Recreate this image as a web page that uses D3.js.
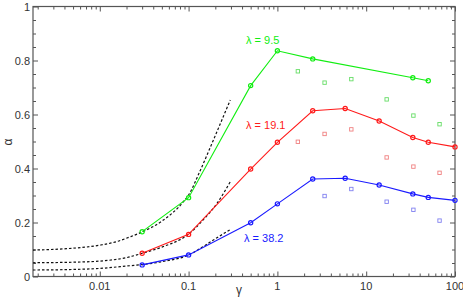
<!DOCTYPE html>
<html><head><meta charset="utf-8">
<script src="https://cdn.jsdelivr.net/npm/d3@7"></script>
<style>body{margin:0;background:#fff}svg{display:block}text{font-family:"Liberation Sans",Arimo,Arial,Helvetica,sans-serif}</style>
</head><body>
<svg id="c" width="463" height="300"></svg>
<script>
// ---- data ----
const gammaGreen = [0.03, 0.1, 0.5, 1, 2.5, 33.5, 50];
const alphaGreen = [0.166, 0.292, 0.707, 0.836, 0.806, 0.736, 0.725];
const gammaRed = [0.03, 0.1, 0.5, 1, 2.5, 5.8, 14, 33.5, 50, 100];
const alphaRed = [0.086, 0.156, 0.398, 0.497, 0.614, 0.622, 0.576, 0.515, 0.497, 0.48];
const gammaBlue = [0.03, 0.1, 0.5, 1, 2.5, 5.8, 14, 33.5, 50, 100];
const alphaBlue = [0.043, 0.08, 0.199, 0.269, 0.361, 0.364, 0.339, 0.306, 0.293, 0.282];
const gammaSqGreen = [1.7, 3.4, 6.8, 17, 34, 67];
const alphaSqGreen = [0.76, 0.718, 0.731, 0.656, 0.596, 0.564];
const gammaSqRed = [1.7, 3.4, 6.8, 17, 34, 67];
const alphaSqRed = [0.499, 0.528, 0.545, 0.441, 0.407, 0.384];
const gammaSqBlue = [3.4, 6.8, 17, 34, 67];
const alphaSqBlue = [0.298, 0.324, 0.277, 0.247, 0.207];
const gammaDashUpper = [0.00177, 0.0042, 0.01, 0.0154, 0.022, 0.03, 0.05, 0.088, 0.1, 0.135, 0.19, 0.295];
const alphaDashUpper = [0.098, 0.103, 0.116, 0.129, 0.147, 0.165, 0.205, 0.278, 0.302, 0.392, 0.505, 0.654];
const gammaDashMid = [0.00177, 0.005, 0.01, 0.022, 0.03, 0.05, 0.1, 0.15, 0.209, 0.295];
const alphaDashMid = [0.051, 0.053, 0.057, 0.073, 0.086, 0.109, 0.157, 0.214, 0.271, 0.351];
const gammaDashLow = [0.00177, 0.005, 0.01, 0.022, 0.03, 0.05, 0.1, 0.14, 0.19, 0.295];
const alphaDashLow = [0.024, 0.026, 0.030, 0.04, 0.044, 0.055, 0.08, 0.107, 0.135, 0.174];
const xTickLabels = ["0.01", "0.1", "1", "10", "100"];
const yTickLabels = ["0", "0.2", "0.4", "0.6", "0.8", "1"];
const seriesLabels = ["λ = 9.5", "λ = 19.1", "λ = 38.2"];

// ---- layout ----
const L = 33, R = 455, T = 6.5, B = 276.5;
const svg = d3.select("#c");
const x = d3.scaleLog().domain([0.00177, 100]).range([L, R]);
const y = d3.scaleLinear().domain([0, 1]).range([B, T]);
const axisCol = "#555";

// frame
svg.append("rect").attr("x", L).attr("y", T).attr("width", R - L).attr("height", B - T)
  .attr("fill", "none").attr("stroke", axisCol).attr("stroke-width", 1.2);

// x ticks (inward) bottom and top
const xMinor = [];
for (let e = -3; e <= 1; e++) for (let m = 1; m <= 9; m++) {
  const v = m * Math.pow(10, e);
  if (v >= 0.00177 && v <= 100) xMinor.push({v, major: m === 1});
}
xMinor.push({v: 100, major: true});
const bAxis = d3.axisBottom(x).tickValues(xMinor.map(d => d.v)).tickFormat("").tickSizeInner(-3).tickSizeOuter(0);
const gb = svg.append("g").attr("transform", `translate(0,${B})`).call(bAxis);
gb.selectAll(".tick line").attr("y2", (d, i) => xMinor[i].major ? -5 : -3);
const tAxis = d3.axisTop(x).tickValues(xMinor.map(d => d.v)).tickFormat("").tickSizeInner(-3).tickSizeOuter(0);
const gt = svg.append("g").attr("transform", `translate(0,${T})`).call(tAxis);
gt.selectAll(".tick line").attr("y2", (d, i) => xMinor[i].major ? 5 : 3);
[gb, gt].forEach(g => { g.select(".domain").remove(); g.selectAll(".tick line").attr("stroke", axisCol); });

// x labels
const xMajor = [0.01, 0.1, 1, 10, 100];
svg.append("g").selectAll("text").data(xMajor).join("text")
  .attr("x", d => x(d)).attr("y", 290).attr("text-anchor", "middle")
  .attr("font-size", 11).attr("fill", "#333").text((d, i) => xTickLabels[i]);

// y ticks
const yVals = d3.range(0, 21).map(i => i * 0.05);
const lAxis = d3.axisLeft(y).tickValues(yVals).tickFormat("").tickSizeInner(-3).tickSizeOuter(0);
const gl = svg.append("g").attr("transform", `translate(${L},0)`).call(lAxis);
const rAxis = d3.axisRight(y).tickValues(yVals).tickFormat("").tickSizeInner(-3).tickSizeOuter(0);
const gr = svg.append("g").attr("transform", `translate(${R},0)`).call(rAxis);
[gl, gr].forEach(g => { g.select(".domain").remove(); g.selectAll(".tick line").attr("stroke", axisCol); });
gl.selectAll(".tick line").attr("x2", (d, i) => i % 4 === 0 ? 5 : 3);
gr.selectAll(".tick line").attr("x2", (d, i) => i % 4 === 0 ? -5 : -3);

svg.append("g").selectAll("text").data([0, 0.2, 0.4, 0.6, 0.8, 1]).join("text")
  .attr("x", 30).attr("y", d => y(d) + 4).attr("text-anchor", "end")
  .attr("font-size", 11).attr("fill", "#333").text((d, i) => yTickLabels[i]);

// axis titles
svg.append("text").attr("x", 239).attr("y", 294).attr("text-anchor", "middle")
  .attr("font-size", 12).attr("fill", "#333").text("γ");
svg.append("text").attr("transform", "translate(12,142) rotate(-90)").attr("text-anchor", "middle")
  .attr("font-size", 12).attr("fill", "#333").text("α");

// dashed curves
const dashLine = d3.line().x(d => x(d[0])).y(d => y(d[1])).curve(d3.curveMonotoneX);
[[gammaDashUpper, alphaDashUpper], [gammaDashMid, alphaDashMid], [gammaDashLow, alphaDashLow]].forEach(([g, a]) => {
  svg.append("path").datum(g.map((v, i) => [v, a[i]])).attr("d", dashLine)
    .attr("fill", "none").attr("stroke", "#111").attr("stroke-width", 1.2).attr("stroke-dasharray", "2.5,2");
});

// series
const series = [
  {g: gammaGreen, a: alphaGreen, sg: gammaSqGreen, sa: alphaSqGreen, c: "#11ee11", sc: "#66dd66"},
  {g: gammaRed, a: alphaRed, sg: gammaSqRed, sa: alphaSqRed, c: "#ff1a1a", sc: "#f08080"},
  {g: gammaBlue, a: alphaBlue, sg: gammaSqBlue, sa: alphaSqBlue, c: "#1a1aff", sc: "#8080f0"}
];
const line = d3.line().x(d => x(d[0])).y(d => y(d[1]));
series.forEach(s => {
  const pts = s.g.map((v, i) => [v, s.a[i]]);
  svg.append("path").datum(pts).attr("d", line).attr("fill", "none").attr("stroke", s.c).attr("stroke-width", 1.1);
  svg.append("g").selectAll("circle").data(pts).join("circle")
    .attr("cx", d => x(d[0])).attr("cy", d => y(d[1])).attr("r", 2.1)
    .attr("fill", "none").attr("stroke", s.c).attr("stroke-width", 1.2);
  const sq = s.sg.map((v, i) => [v, s.sa[i]]);
  svg.append("g").selectAll("rect").data(sq).join("rect")
    .attr("x", d => x(d[0]) - 1.7).attr("y", d => y(d[1]) - 1.7).attr("width", 3.4).attr("height", 3.4)
    .attr("fill", "none").attr("stroke", s.sc).attr("stroke-width", 0.9);
});

// series labels
const labPos = [[246, 44], [246, 129], [244, 242]];
seriesLabels.forEach((t, i) => {
  svg.append("text").attr("x", labPos[i][0]).attr("y", labPos[i][1])
    .attr("font-size", 11).attr("fill", series[i].c).text(t);
});
</script>
</body></html>
